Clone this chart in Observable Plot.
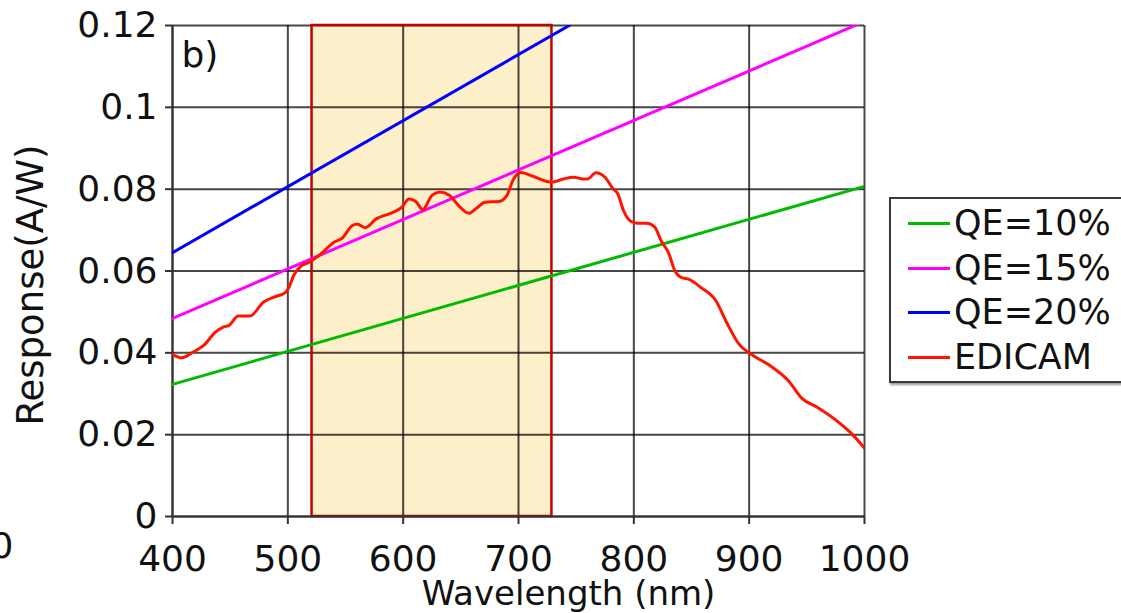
<!DOCTYPE html>
<html><head><meta charset="utf-8">
<script src="https://cdn.jsdelivr.net/npm/d3@7"></script>
<script src="https://cdn.jsdelivr.net/npm/@observablehq/plot@0.6"></script>
<style>
html,body{margin:0;padding:0;background:#fff;overflow:hidden;width:1121px;height:613px}
#wrap{position:relative;width:1121px;height:613px;overflow:hidden}
#legend{position:absolute;left:889px;top:197px;width:260px;height:182px;border:2px solid #3a3a3a;box-shadow:1px 2px 2px #9a9a9a;background:#fff;font-family:"DejaVu Sans";font-size:35px;color:#111}
.item{position:absolute;left:17px;height:40px;display:flex;align-items:center;white-space:nowrap}
.sw{width:42px;height:3px;margin-right:4px}
</style></head>
<body><div id="wrap"><div id="chart"></div><div id="legend"></div></div>
<script>
// ---- data ----
const xTicks = [400, 500, 600, 700, 800, 900, 1000];
const xTickLabels = ["400", "500", "600", "700", "800", "900", "1000"];
const yTicks = [0, 0.02, 0.04, 0.06, 0.08, 0.1, 0.12];
const yTickLabels = ["0", "0.02", "0.04", "0.06", "0.08", "0.1", "0.12"];
const bandStart = 521;
const bandEnd = 729;
const seriesNames = ["QE=10%", "QE=15%", "QE=20%", "EDICAM"];
const seriesColors = ["#00bb00", "#ff00ff", "#0000ff", "#ff1400"];

const qe10Wl = [400, 1000];
const qe10Resp = [0.0323, 0.0807];
const qe15Wl = [400, 1000];
const qe15Resp = [0.0484, 0.1210];
const qe20Wl = [400, 744];
const qe20Resp = [0.0645, 0.1200];

const edicamWl = [400,408,418,427,437,444,449,457,467,479,488,498,501,505,511,519,528,540,547,556,560,567,577,589,599,605,611,617,625,632,640,648,657,663,671,683,690,695,702,713,729,739,748,756,760,767,775,782,786,791,797,803,811,818,824,830,836,840,849,858,871,881,891,901,918,934,946,959,979,989,1000];
const edicamResp = [0.0396,0.0388,0.0402,0.0418,0.0450,0.0463,0.0467,0.0490,0.0490,0.0524,0.0536,0.0548,0.0560,0.0589,0.0611,0.0622,0.0640,0.0670,0.0680,0.0711,0.0715,0.0706,0.0728,0.0741,0.0756,0.0776,0.0770,0.0750,0.0785,0.0793,0.0785,0.0760,0.0741,0.0752,0.0768,0.0770,0.0785,0.0821,0.0841,0.0831,0.0817,0.0825,0.0829,0.0825,0.0825,0.0840,0.0829,0.0801,0.0789,0.0748,0.0722,0.0717,0.0717,0.0708,0.0672,0.0645,0.0598,0.0586,0.0578,0.0560,0.0528,0.0471,0.0422,0.0398,0.0369,0.0332,0.0288,0.0267,0.0227,0.0202,0.0167];

// ---- build tables ----
const mk = (wl, r) => wl.map((w, i) => ({wl: w, resp: r[i]}));
const seriesData = [mk(qe10Wl, qe10Resp), mk(qe15Wl, qe15Resp), mk(qe20Wl, qe20Resp), mk(edicamWl, edicamResp)];
const band = [{x1: bandStart, x2: bandEnd, y1: yTicks[0], y2: yTicks[yTicks.length - 1]}];

const font = "DejaVu Sans";
const chart = Plot.plot({
  width: 1121, height: 613,
  marginLeft: 172, marginRight: 257, marginTop: 25, marginBottom: 97,
  style: {fontFamily: font, fontSize: "36px", color: "#111", background: "transparent", overflow: "visible"},
  x: {domain: [400, 1000]},
  y: {domain: [0, 0.12]},
  marks: [
    Plot.rect(band, {x1: "x1", x2: "x2", y1: "y1", y2: "y2", fill: "#fdefca"}),
    Plot.gridX(xTicks, {stroke: "#000", strokeOpacity: 0.72, strokeWidth: 2}),
    Plot.gridY(yTicks, {stroke: "#000", strokeOpacity: 0.72, strokeWidth: 2}),
    Plot.rect(band, {x1: "x1", x2: "x2", y1: "y1", y2: "y2", fill: "none", stroke: "#c40000", strokeWidth: 2.5}),
    Plot.axisX(xTicks, {tickSize: 8, tickPadding: 21, label: null, fontSize: 36, stroke: "#333", strokeWidth: 2,
      tickFormat: d => xTickLabels[xTicks.indexOf(d)]}),
    Plot.axisY(yTicks, {tickSize: 7, tickPadding: 8, label: null, fontSize: 36, stroke: "#333", strokeWidth: 2,
      tickFormat: d => yTickLabels[yTicks.indexOf(d)]}),
    Plot.ruleX([400], {stroke: "#333", strokeWidth: 2}),
    Plot.ruleY([0], {stroke: "#333", strokeWidth: 2}),
    ...seriesData.map((d, i) => Plot.line(d, {x: "wl", y: "resp", stroke: seriesColors[i], strokeWidth: 3, clip: true, curve: i === 3 ? "monotone-x" : "linear"})),
    Plot.text(["b)"], {frameAnchor: "top-left", dx: 9, dy: 16, lineAnchor: "top", textAnchor: "start", fontSize: 36, fill: "#111"}),
    Plot.text(["Wavelength (nm)"], {frameAnchor: "bottom", dx: 50, dy: 78, lineAnchor: "middle", textAnchor: "middle", fontSize: 34, fill: "#111"}),
    Plot.text(["Response(A/W)"], {frameAnchor: "left", dx: -141, dy: 14, rotate: -90, lineAnchor: "middle", textAnchor: "middle", fontSize: 37, fill: "#111"}),
    Plot.text(["0"], {frameAnchor: "bottom-left", dx: -159, dy: 30, lineAnchor: "middle", textAnchor: "end", fontSize: 36, fill: "#111"})
  ]
});
document.getElementById("chart").appendChild(chart);

// ---- legend ----
const legend = d3.select("#legend");
const rowCenters = [24, 69, 113, 158];
seriesNames.forEach((name, i) => {
  const it = legend.append("div").attr("class", "item").style("top", (rowCenters[i] - 20) + "px");
  it.append("div").attr("class", "sw").style("background", seriesColors[i]);
  it.append("span").text(name);
});
</script></body></html>
